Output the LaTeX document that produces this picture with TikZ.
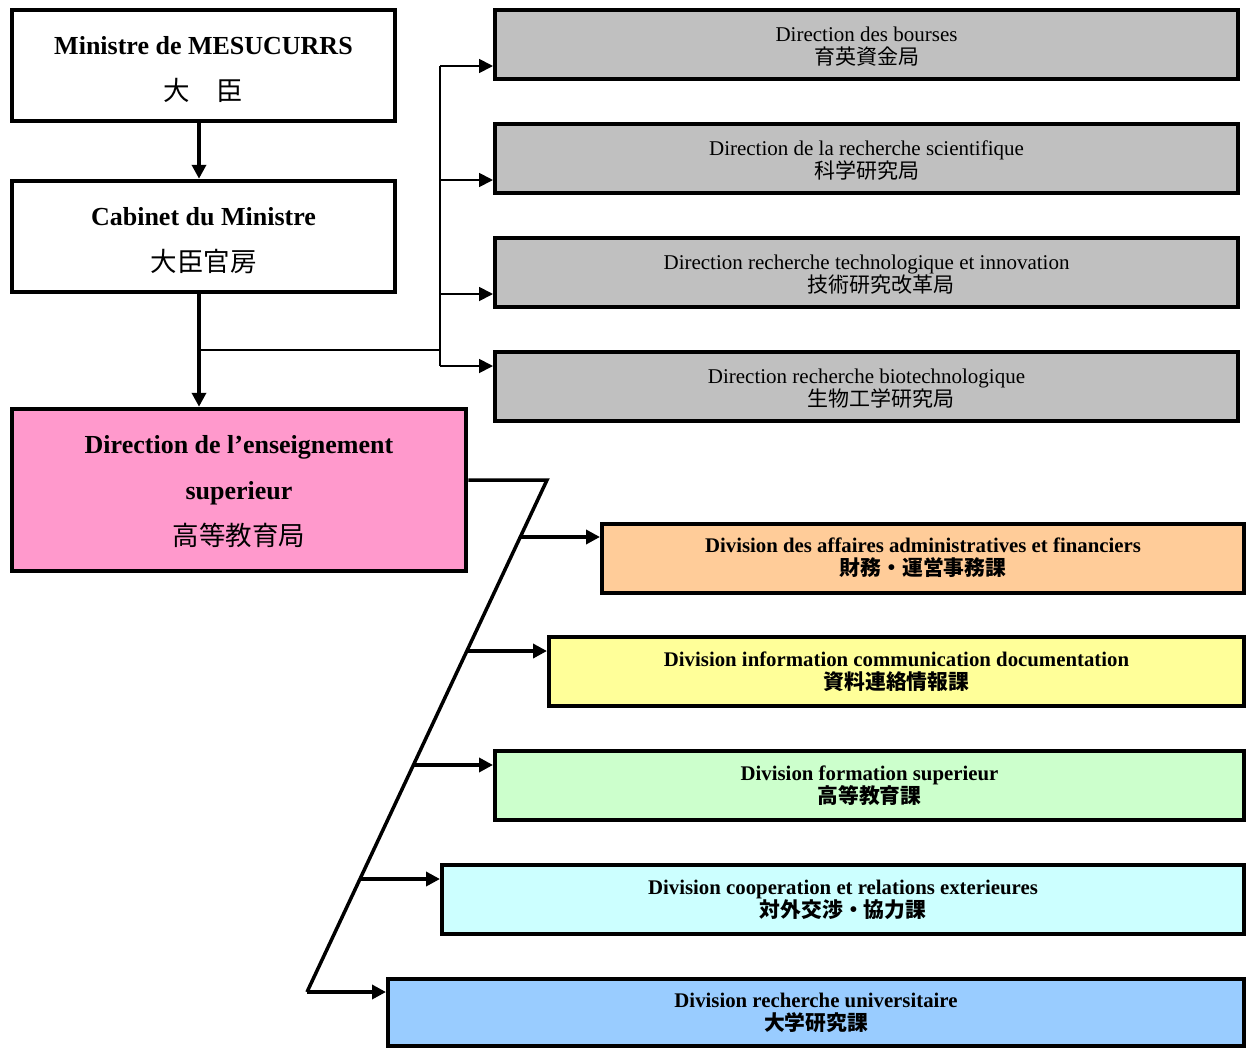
\documentclass[tikz,border=0pt]{standalone}
\usepackage{fontspec}
\setmainfont{Liberation Serif}
\newfontfamily\cjk{Noto Sans CJK JP}
\usetikzlibrary{arrows.meta,calc}
\definecolor{gfill}{HTML}{C0C0C0}
\definecolor{pinkfill}{HTML}{FF99CC}
\definecolor{orfill}{HTML}{FFCC99}
\definecolor{yefill}{HTML}{FFFF99}
\definecolor{grfill}{HTML}{CCFFCC}
\definecolor{cyfill}{HTML}{CCFFFF}
\definecolor{blfill}{HTML}{99CCFF}
\newcommand{\tstrut}[1]{\rule{0pt}{#1}}
\tikzset{
  box/.style={draw=black, line width=4.5pt, align=center, inner sep=0pt},
  bigbox/.style={box, font=\fontsize{26}{46}\selectfont\bfseries},
  graybox/.style={box, line width=4pt, fill=gfill, minimum width=743pt, minimum height=69pt, font=\fontsize{21}{23}\selectfont},
  divbox/.style={box, line width=4pt, minimum height=69pt, font=\fontsize{20.8}{23}\selectfont\bfseries},
  thick arrow/.style={line width=3.5pt, -{Triangle[length=14pt,width=14pt]}},
  thin arrow/.style={line width=1.8pt, -{Triangle[length=14pt,width=14pt]}},
  thin line/.style={line width=1.8pt},
  slant line/.style={line width=3.5pt, line join=miter},
}
\begin{document}
\begin{tikzpicture}[x=1pt,y=-1pt]
\useasboundingbox (0,0) rectangle (1249,1050);
% left column
\node[bigbox, minimum width=383pt, minimum height=111pt] (min) at (203.5,65.5)
  {\tstrut{27pt}Ministre de MESUCURRS\\{\mdseries\fontsize{26.5}{46}\cjk 大　臣}};
\node[bigbox, minimum width=383pt, minimum height=111pt] (cab) at (203.5,236.5)
  {\tstrut{26pt}Cabinet du Ministre\\{\mdseries\fontsize{26.5}{46}\cjk 大臣官房}};
\node[bigbox, fill=pinkfill, minimum width=454pt, minimum height=162pt] (des) at (239,490)
  {\tstrut{22pt}Direction de l’enseignement\\superieur\\{\mdseries\fontsize{26.5}{46}\cjk 高等教育局}};
% gray directions
\node[graybox] (g1) at (866.5,44.5) {\tstrut{19pt}Direction des bourses\\{\cjk 育英資金局}};
\node[graybox] (g2) at (866.5,158.5) {\tstrut{19pt}Direction de la recherche scientifique\\{\cjk 科学研究局}};
\node[graybox] (g3) at (866.5,272.5) {\tstrut{19pt}Direction recherche technologique et innovation\\\hspace*{28pt}{\cjk 技術研究改革局}};
\node[graybox] (g4) at (866.5,386.5) {\tstrut{19pt}Direction recherche biotechnologique\\\hspace*{28pt}{\cjk 生物工学研究局}};
% divisions
\node[divbox, fill=orfill, minimum width=642pt] (d1) at (923,558)
  {Division des affaires administratives et financiers\\{\cjk 財務・運営事務課}};
\node[divbox, fill=yefill, minimum width=695pt] (d2) at (896.5,671.5)
  {Division information communication documentation\\{\cjk 資料連絡情報課}};
\node[divbox, fill=grfill, minimum width=749pt] (d3) at (869.5,785.5)
  {Division formation superieur\\{\cjk 高等教育課}};
\node[divbox, fill=cyfill, minimum width=802pt] (d4) at (843,899.5)
  {Division cooperation et relations exterieures\\{\cjk 対外交渉・協力課}};
\node[divbox, fill=blfill, minimum width=856pt, minimum height=67pt] (d5) at (816,1012.5)
  {Division recherche universitaire\\{\cjk 大学研究課}};
% main vertical connectors
\coordinate (vx) at (199,0);
\draw[thick arrow] (min.south -| vx) -- (cab.north -| vx);
\draw[thick arrow] (cab.south -| vx) -- (des.north -| vx);
% branch to gray boxes
\coordinate (bx) at (199,350);
\coordinate (bus) at (440,350);
\coordinate (bt) at (440,66);
\coordinate (bb) at (440,366);
\draw[thin line] (bx) -- (bus);
\draw[thin line] (bt) -- (bb);
\draw[thin arrow] (bt) -- (bt -| g1.west);
\draw[thin arrow] (440,180) coordinate (b2) -- (b2 -| g2.west);
\draw[thin arrow] (440,294) coordinate (b3) -- (b3 -| g3.west);
\draw[thin arrow] (bb) -- (bb -| g4.west);
% slanted bus to divisions
\coordinate (st) at (547,480);
\coordinate (sb) at (307,992);
\draw[slant line] (des.east |- st) -- (st) -- (sb);
\coordinate (s1) at ($(st)!0.1113!(sb)$);
\coordinate (s2) at ($(st)!0.334!(sb)$);
\coordinate (s3) at ($(st)!0.5566!(sb)$);
\coordinate (s4) at ($(st)!0.7793!(sb)$);
\draw[thick arrow] (s1) -- (s1 -| d1.west);
\draw[thick arrow] (s2) -- (s2 -| d2.west);
\draw[thick arrow] (s3) -- (s3 -| d3.west);
\draw[thick arrow] (s4) -- (s4 -| d4.west);
\draw[thick arrow] (sb) -- (sb -| d5.west);
\end{tikzpicture}
\end{document}
